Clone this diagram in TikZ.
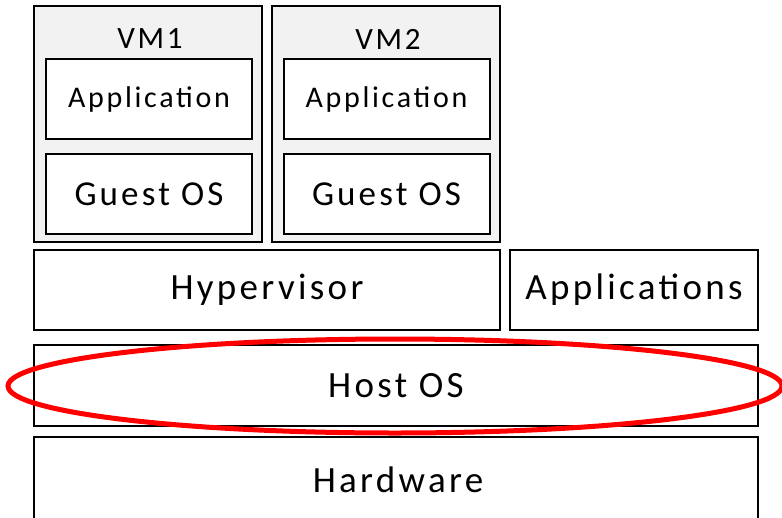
\documentclass[tikz,border=0pt]{standalone}
\usepackage{fontspec}
\setmainfont{Carlito}[LetterSpace=9]
\begin{document}
\begin{tikzpicture}[x=1pt,y=-1pt,
  layer/.style={draw=black, line width=2pt, fill=white, inner sep=0pt, font=\fontsize{37}{42}\selectfont},
  vmbox/.style={draw=black, line width=2pt, fill=black!5, inner sep=0pt},
  inner/.style={draw=black, line width=2pt, fill=white, inner sep=0pt, minimum width=206pt, minimum height=80pt},
  highlight/.style={draw=red, line width=5pt}]
\clip (0,0) rectangle (782,517);
\fill[white] (0,0) rectangle (782,517);

% virtual machines
\node[vmbox, minimum width=228pt, minimum height=236pt] (vm1) at (148,124) {};
\node[vmbox, minimum width=228pt, minimum height=236pt] (vm2) at (386,124) {};
\node[font=\fontsize{31}{35}\selectfont] (vm1t) at (150,39) {VM1};
\node[font=\fontsize{31}{35}\selectfont] (vm2t) at (388,39) {VM2};
\node[inner, font=\fontsize{30}{34}\selectfont] (app1) at (149,99) {Application};
\node[inner, font=\fontsize{35}{40}\selectfont] (gos1) at (149,194) {Guest OS};
\node[inner, font=\fontsize{30}{34}\selectfont] (app2) at (386.5,99) {Application};
\node[inner, font=\fontsize{35}{40}\selectfont] (gos2) at (386.5,194) {Guest OS};

% host layers
\node[layer, minimum width=466pt, minimum height=80pt] (hyp) at (267,290) {Hypervisor};
\node[layer, minimum width=248pt, minimum height=80pt] (apps) at (634,290) {Applications};
\node[layer, minimum width=724pt, minimum height=81pt] (host) at (396,385.5) {Host OS};
\node[layer, minimum width=724pt, minimum height=100pt] (hw) at (396,487) {};
\node[font=\fontsize{37}{42}\selectfont] (hwt) at (398,480) {Hardware};

% highlight around the host OS
\draw[highlight] (395,386) ellipse [x radius=387pt, y radius=47pt];
\end{tikzpicture}
\end{document}
